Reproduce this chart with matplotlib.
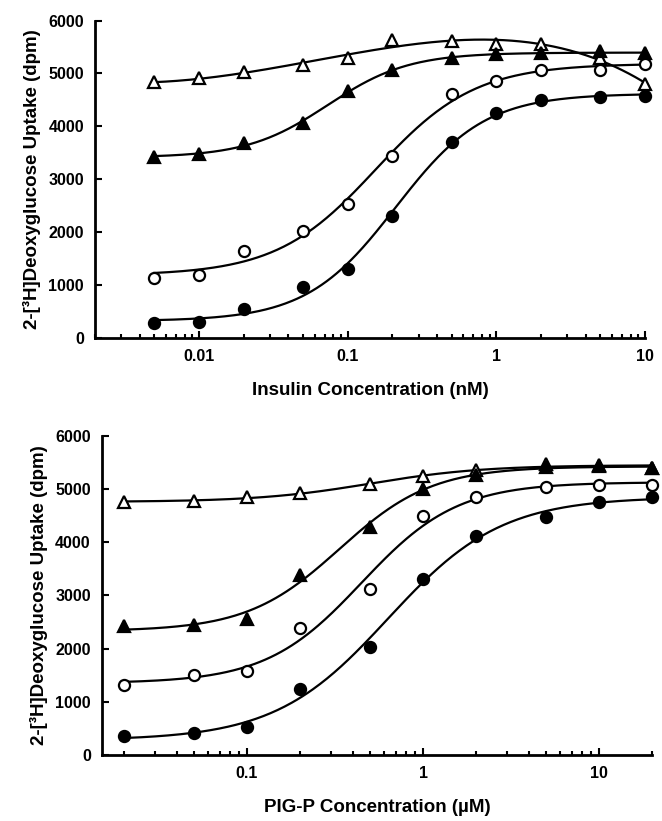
import numpy as np
import matplotlib
matplotlib.use("Agg")
import matplotlib.pyplot as plt

plt.rcParams['font.family'] = ['Liberation Sans', 'DejaVu Sans']
plt.rcParams['font.weight'] = 'bold'

# insulin panel (nM)
ins_x = [0.005, 0.01, 0.02, 0.05, 0.1, 0.2, 0.5, 1, 2, 5, 10]
ins_open_tri = [4830, 4910, 5030, 5160, 5290, 5640, 5610, 5560, 5550, 5300, 4800]
ins_fill_tri = [3430, 3480, 3680, 4060, 4670, 5070, 5290, 5360, 5380, 5420, 5380]
ins_open_circ = [1140, 1200, 1650, 2030, 2530, 3450, 4610, 4860, 5060, 5070, 5170]
ins_fill_circ = [280, 310, 560, 960, 1310, 2300, 3710, 4250, 4500, 4560, 4570]

# PIG-P panel (uM)
pig_x = [0.02, 0.05, 0.1, 0.2, 0.5, 1, 2, 5, 10, 20]
pig_open_tri = [4760, 4770, 4860, 4920, 5090, 5250, 5360, 5470, 5450, 5390]
pig_fill_tri = [2430, 2440, 2560, 3380, 4290, 5000, 5270, 5410, 5440, 5400]
pig_open_circ = [1320, 1500, 1580, 2390, 3130, 4490, 4860, 5040, 5080, 5080]
pig_fill_circ = [360, 410, 520, 1240, 2040, 3310, 4110, 4480, 4760, 4860]


def fit_logistic(x, y):
    # 4-parameter logistic, grid over EC50/slope, linear solve for bottom/top
    lx = np.log10(x)
    y = np.asarray(y, float)
    best = None
    for lec in np.linspace(lx.min() - 0.5, lx.max() + 0.5, 161):
        for h in np.linspace(0.6, 3.0, 49):
            s = 1.0 / (1.0 + 10 ** ((lec - lx) * h))
            A = np.column_stack([np.ones_like(s), s])
            coef = np.linalg.lstsq(A, y, rcond=None)[0]
            err = np.sum((A @ coef - y) ** 2)
            if best is None or err < best[0]:
                best = (err, lec, h, coef)
    _, lec, h, coef = best

    def f(xx):
        s = 1.0 / (1.0 + 10 ** ((lec - np.log10(xx)) * h))
        return coef[0] + coef[1] * s
    return f


def fit_poly(x, y, deg=4):
    p = np.polyfit(np.log10(x), y, deg)
    return lambda xx: np.polyval(p, np.log10(xx))


def draw(ax, x, series, bell_first=False):
    xx = np.logspace(np.log10(x[0]), np.log10(x[-1]), 300)
    for i, (y, marker, face) in enumerate(series):
        f = fit_poly(x, y) if (bell_first and i == 0) else fit_logistic(x, y)
        ax.plot(xx, f(xx), color='black', lw=1.6, zorder=2)
        ax.plot(x, y, linestyle='none', marker=marker, markersize=8,
                markerfacecolor=face, markeredgecolor='black',
                markeredgewidth=1.6, zorder=3, clip_on=False)


def style(ax, xlim, xticks, xlabels, xlabel):
    ax.set_xscale('log')
    ax.set_xlim(*xlim)
    ax.set_ylim(0, 6000)
    ax.set_yticks(range(0, 6001, 1000))
    ax.set_xticks(xticks)
    ax.set_xticklabels(xlabels)
    for s in ['top', 'right']:
        ax.spines[s].set_visible(False)
    for s in ['left', 'bottom']:
        ax.spines[s].set_linewidth(2)
    ax.tick_params(which='both', direction='in', width=1.5, labelsize=11.5)
    ax.tick_params(which='major', length=5, pad=8)
    ax.tick_params(which='minor', length=3)
    ax.set_xlabel(xlabel, fontsize=13.5, fontweight='bold', labelpad=13)
    ax.set_ylabel('2-[³H]Deoxyglucose Uptake (dpm)', fontsize=13.5,
                  fontweight='bold', labelpad=5)


fig = plt.figure(figsize=(6.62, 8.21), dpi=100)
ax1 = fig.add_axes([0.1435, 0.588, 0.831, 0.387])
ax2 = fig.add_axes([0.154, 0.0804, 0.831, 0.3886])

draw(ax1, ins_x, [(ins_open_tri, '^', 'white'), (ins_fill_tri, '^', 'black'),
                  (ins_open_circ, 'o', 'white'), (ins_fill_circ, 'o', 'black')],
     bell_first=True)
style(ax1, (0.002, 10), [0.01, 0.1, 1, 10], ['0.01', '0.1', '1', '10'],
      'Insulin Concentration (nM)')

draw(ax2, pig_x, [(pig_open_tri, '^', 'white'), (pig_fill_tri, '^', 'black'),
                  (pig_open_circ, 'o', 'white'), (pig_fill_circ, 'o', 'black')])
style(ax2, (0.015, 20), [0.1, 1, 10], ['0.1', '1', '10'],
      'PIG-P Concentration (µM)')

fig.savefig('out.png', dpi=100)
